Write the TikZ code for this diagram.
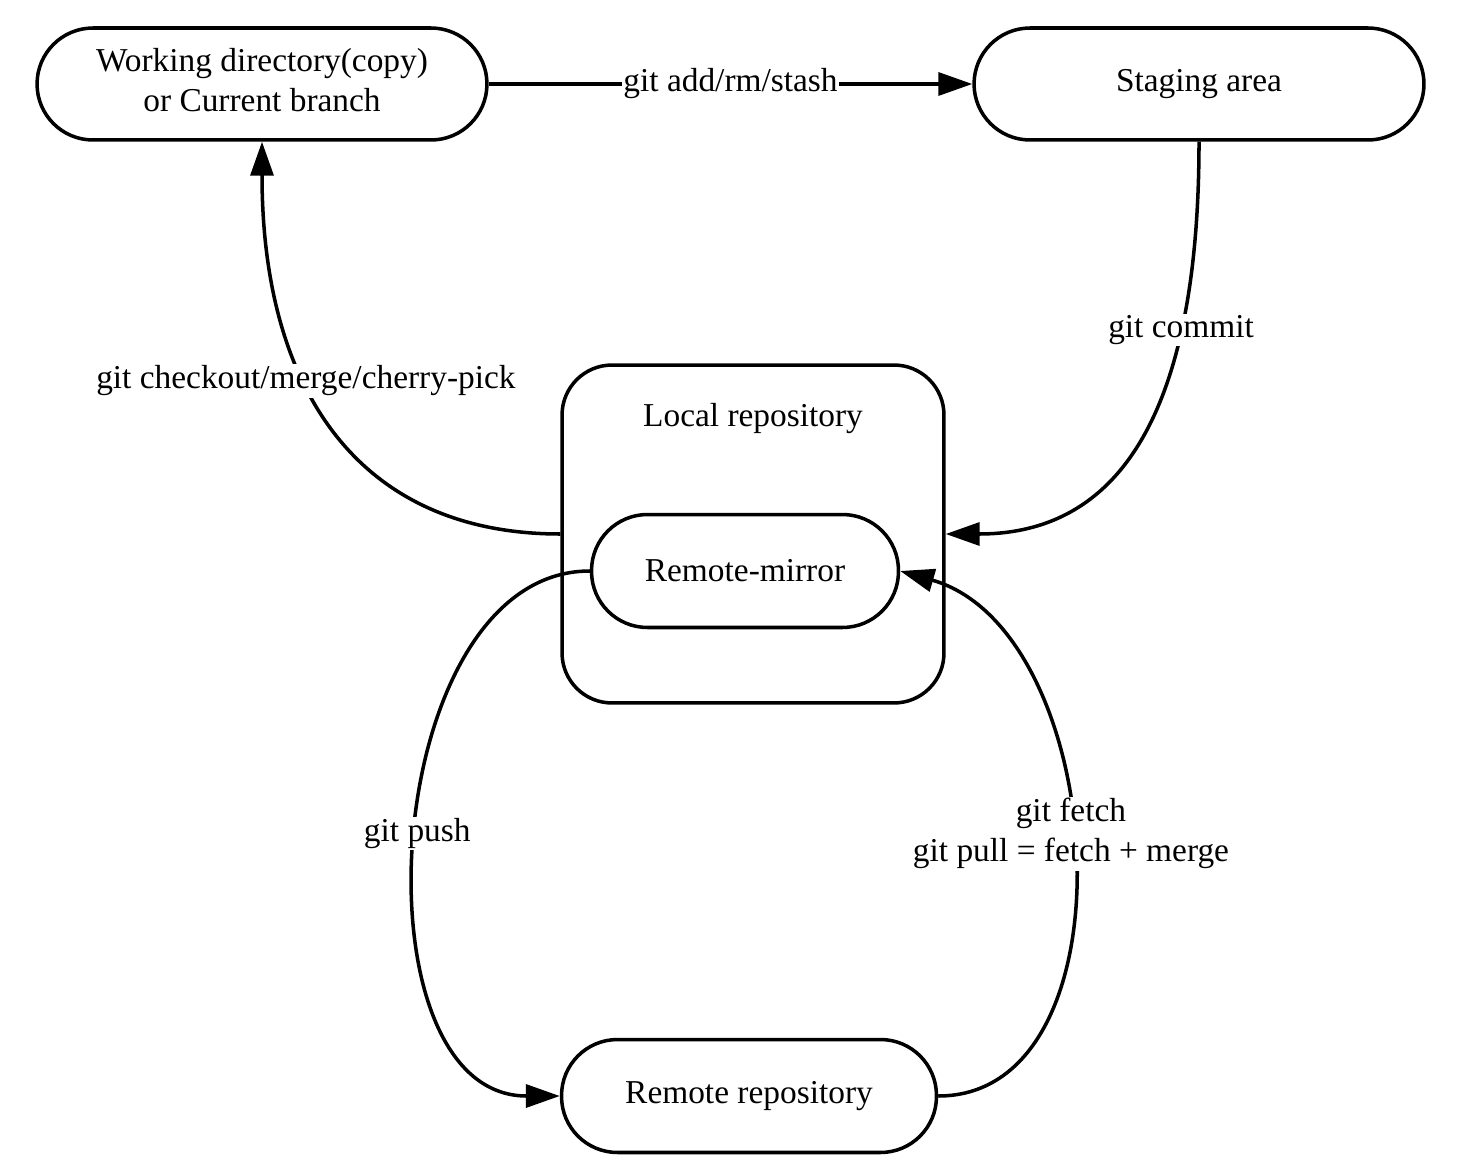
\documentclass[tikz,border=0pt]{standalone}
\usepackage{fontspec}
\setmainfont{Liberation Serif}
\usetikzlibrary{arrows.meta, positioning}

\tikzset{
  state/.style={draw, line width=2pt, rounded corners=1.12cm, minimum height=2.24cm, align=center, inner sep=0pt},
  flow/.style={line width=2pt, -{Triangle[length=0.68cm, width=0.46cm]}},
  lbl/.style={fill=white, inner sep=1pt, align=center}
}

\begin{document}
\begin{tikzpicture}[x=0.02cm, y=-0.02cm, font=\fontsize{19}{22.8}\selectfont]
\useasboundingbox (0,0) rectangle (1479,1172);
% areas
\node[state, minimum width=9cm, text depth=0.16cm] (work) at (262,84) {Working directory(copy)\\or Current branch};
\node[state, minimum width=9cm] (stage) at (1199,84) {Staging area};
\node[draw, line width=2pt, rounded corners=1cm, minimum width=7.64cm, minimum height=6.76cm] (local) at (753,534) {};
\node (localtitle) at ([yshift=-1.1cm]local.north) {Local repository};
\node[state, minimum width=6.14cm, minimum height=2.26cm] (mirror) at (745,571) {Remote-mirror};
\node[state, minimum width=7.5cm, minimum height=2.26cm] (remote) at (749,1096) {Remote repository};
% commands
\draw[flow] (work.east) -- (stage.west) node[lbl, midway] (addlbl) {git add/rm/stash};
\draw[flow] (stage.south) .. controls +(0,260) and +(180,0) .. (local.east) node[lbl, pos=0.28] (commitlbl) {git commit};
\draw[flow] (local.west) .. controls +(-200,0) and +(0,250) .. (work.south) node[lbl, pos=0.615] (checkoutlbl) {git checkout/merge/cherry-pick};
\draw[flow] (mirror.west) .. controls +(-210,0) and +(-210,0) .. (remote.west) node[lbl, pos=0.5] (pushlbl) {git push};
\draw[flow] (remote.east) .. controls +(200,0) and +(210,60) .. (mirror.east) node[lbl, pos=0.53] (fetchlbl) {git fetch\\git pull = fetch + merge};
\end{tikzpicture}
\end{document}
